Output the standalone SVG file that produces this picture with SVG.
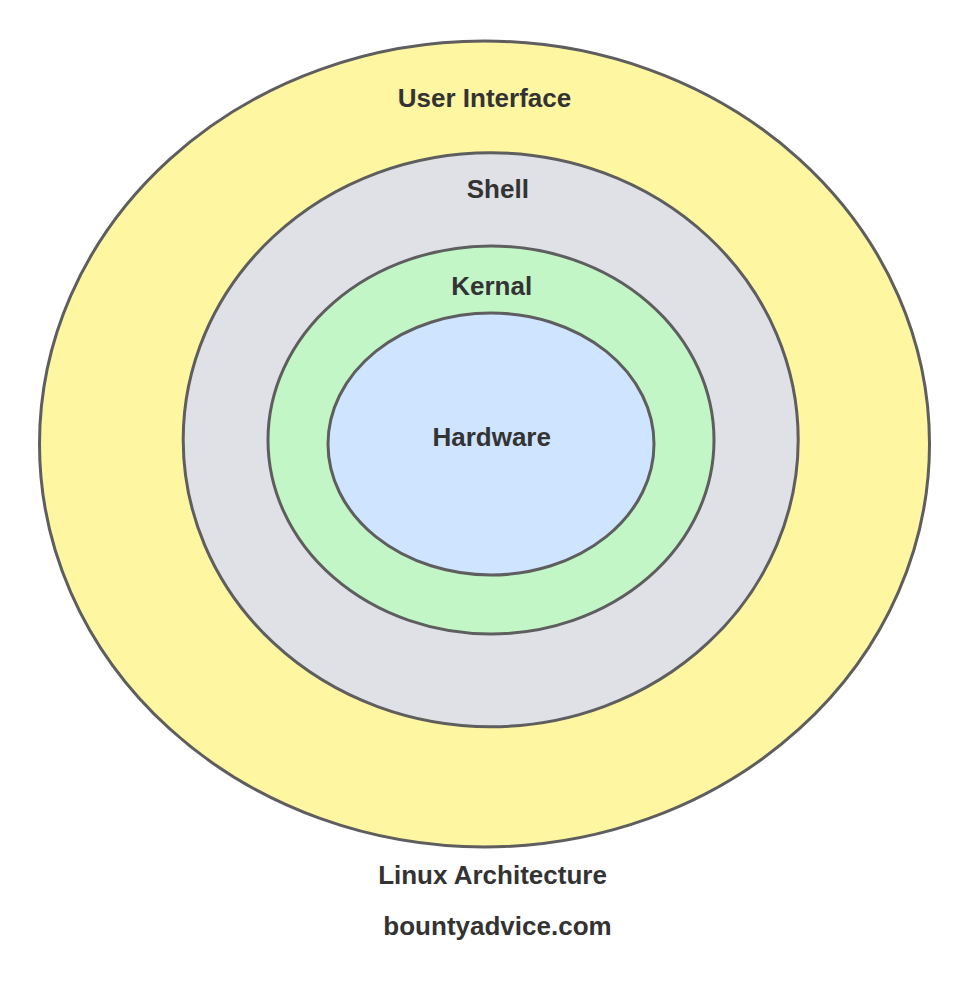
<svg xmlns="http://www.w3.org/2000/svg" width="971" height="990" viewBox="0 0 971 990">
<style>
.ring{stroke:#5e5e5e;stroke-width:3}
.lbl{font-family:"Liberation Sans",Arial,sans-serif;font-weight:bold;font-size:26px;fill:#333333;text-anchor:middle}
</style>
<rect width="971" height="990" fill="#ffffff"/>
<g id="user-interface">
<ellipse class="ring" cx="484.5" cy="444" rx="445" ry="403" fill="#fff6a1"/>
<text class="lbl" x="484.5" y="106.5">User Interface</text>
</g>
<g id="shell">
<ellipse class="ring" cx="490.7" cy="439.7" rx="307.5" ry="287" fill="#dfe1e6"/>
<text class="lbl" x="497.8" y="197.5">Shell</text>
</g>
<g id="kernal">
<ellipse class="ring" cx="491" cy="440" rx="223" ry="194" fill="#c3f6c7"/>
<text class="lbl" x="491.7" y="295">Kernal</text>
</g>
<g id="hardware">
<ellipse class="ring" cx="491" cy="444" rx="163" ry="131" fill="#cfe4ff"/>
<text class="lbl" x="491.7" y="446">Hardware</text>
</g>
<g id="connectors"/>
<g id="captions">
<text class="lbl" x="492.5" y="883.5">Linux Architecture</text>
<text class="lbl" x="497.5" y="935">bountyadvice.com</text>
</g>
</svg>
